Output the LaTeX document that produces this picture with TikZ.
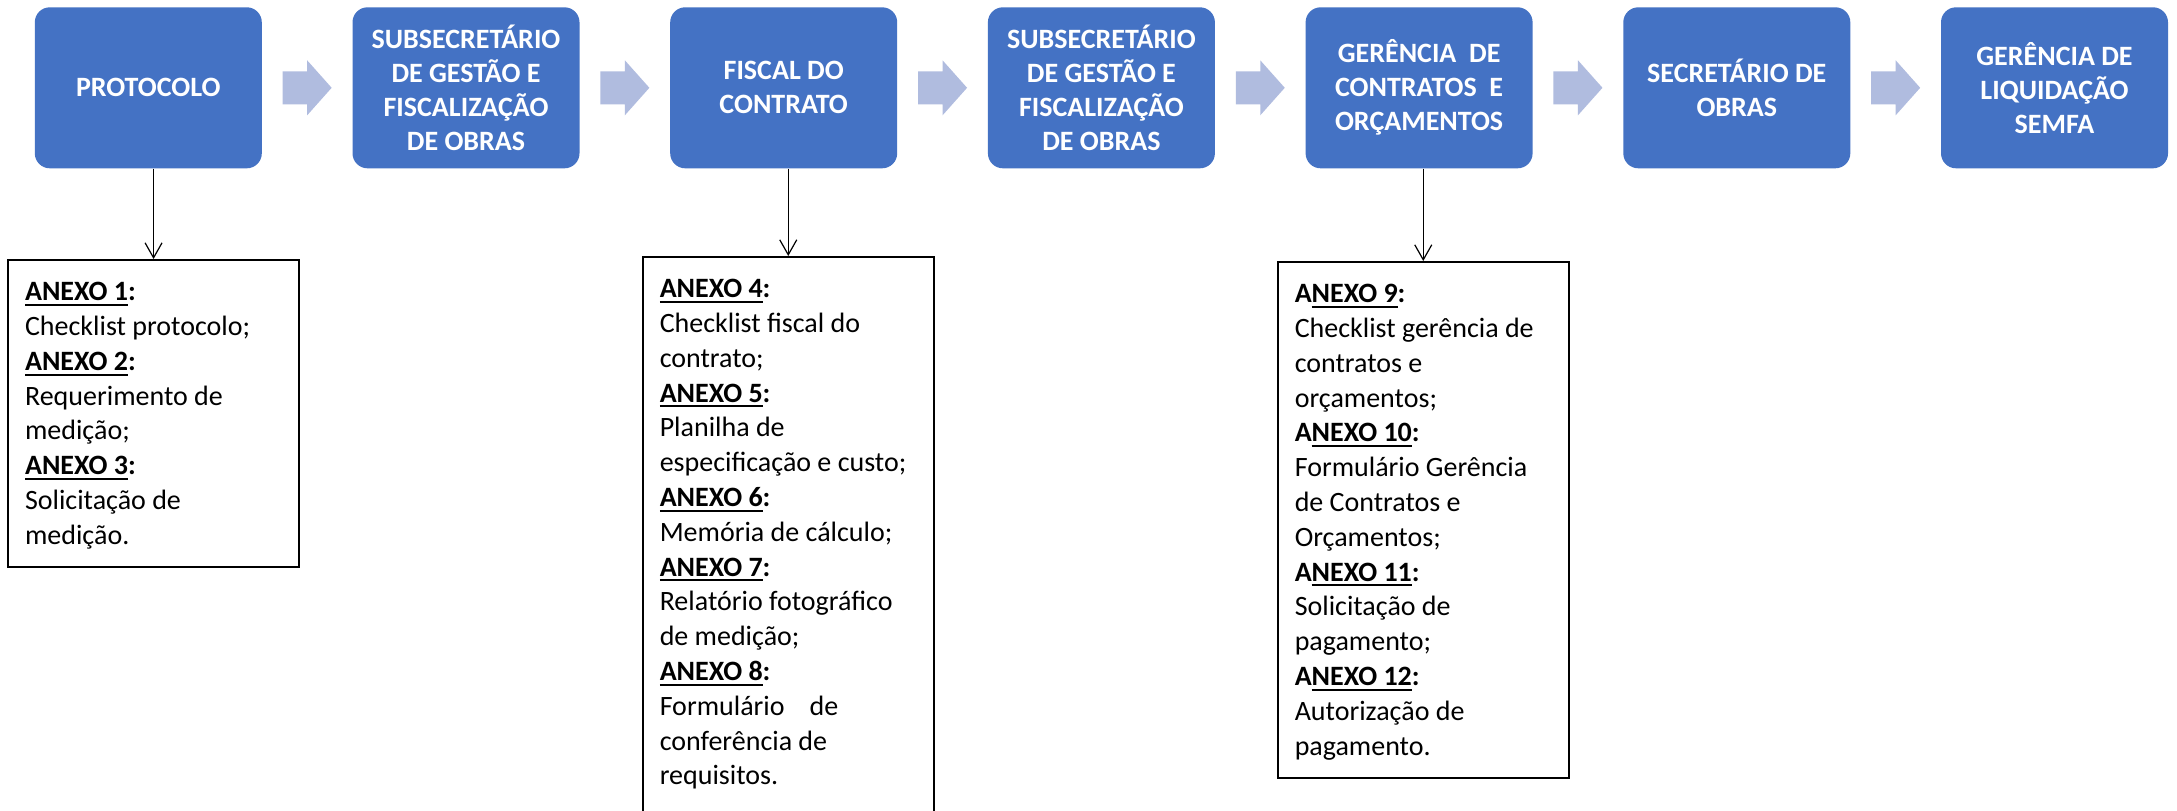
\documentclass[tikz,border=0pt]{standalone}
\usepackage{fontspec}
\setmainfont{Carlito}
\usetikzlibrary{arrows.meta,calc}
\definecolor{boxblue}{HTML}{4472C4}
\definecolor{arrowblue}{HTML}{B0BCDF}
\newcommand\ulx[1]{\setbox0\hbox{#1}\rlap{\rule[-5.3pt]{\wd0}{2pt}}\box0}
\newcommand\annexfont{\fontsize{28}{34.8}\selectfont}
\newcommand\annexbody[2]{\parbox[c][#1][t]{257pt}{\raggedright\annexfont\vspace*{16.6pt}\strut #2}}
\tikzset{
  stage/.style={fill=boxblue, rounded corners=15pt, minimum width=227pt, minimum height=161pt,
    inner sep=0pt, text=white, align=center, font=\fontsize{28}{34}\selectfont\bfseries},
  annex/.style={draw=black, line width=1.5pt, inner xsep=17pt, inner ysep=0pt, anchor=north west},
  link/.style={line width=1.2pt, -{Straight Barb[length=15pt,width=17pt]}},
  barrow/.pic={\fill[arrowblue] (-24.5,-16.5) -- (0,-16.5) -- (0,-27.5) -- (24.5,0) -- (0,27.5) -- (0,16.5) -- (-24.5,16.5) -- cycle;}
}
\begin{document}
\begin{tikzpicture}[x=1pt,y=-1pt]
\useasboundingbox (0,0) rectangle (2177,811);
\fill[white] (0,0) rectangle (2177,811);

% stage boxes
\node[stage] (s1) at (148.3,87.8) {PROTOCOLO};
\node[stage] (s2) at (466.0,87.8) {SUBSECRETÁRIO\\DE GESTÃO E\\FISCALIZAÇÃO\\DE OBRAS};
\node[stage] (s3) at (783.7,87.8) {FISCAL DO\\CONTRATO};
\node[stage] (s4) at (1101.4,87.8) {SUBSECRETÁRIO\\DE GESTÃO E\\FISCALIZAÇÃO\\DE OBRAS};
\node[stage] (s5) at (1419.1,87.8) {GERÊNCIA\ \ DE\\CONTRATOS\ \ E\\ORÇAMENTOS};
\node[stage] (s6) at (1736.8,87.8) {SECRETÁRIO DE\\OBRAS};
\node[stage] (s7) at (2054.5,87.8) {GERÊNCIA DE\\LIQUIDAÇÃO\\SEMFA};

% block arrows between stages
\path (s1.east) -- coordinate[midway] (m1) (s2.west);
\path (s2.east) -- coordinate[midway] (m2) (s3.west);
\path (s3.east) -- coordinate[midway] (m3) (s4.west);
\path (s4.east) -- coordinate[midway] (m4) (s5.west);
\path (s5.east) -- coordinate[midway] (m5) (s6.west);
\path (s6.east) -- coordinate[midway] (m6) (s7.west);
\pic at (m1) {barrow};
\pic at (m2) {barrow};
\pic at (m3) {barrow};
\pic at (m4) {barrow};
\pic at (m5) {barrow};
\pic at (m6) {barrow};

% annex boxes
\node[annex] (a1) at (7.3,259) {\annexbody{307pt}{%
\textbf{\ulx{ANEXO 1}:}\\
Checklist protocolo;\\
\textbf{\ulx{ANEXO 2}:}\\
Requerimento de\\
medição;\\
\textbf{\ulx{ANEXO 3}:}\\
Solicitação de\\
medição.}};

\begin{scope}
\clip (0,0) rectangle (2177,811);
\node[annex] (a4) at (642,256) {\annexbody{600pt}{%
\textbf{\ulx{ANEXO 4}:}\\
Checklist fiscal do\\
contrato;\\
\textbf{\ulx{ANEXO 5}:}\\
Planilha de\\
especificação e custo;\\
\textbf{\ulx{ANEXO 6}:}\\
Memória de cálculo;\\
\textbf{\ulx{ANEXO 7}:}\\
Relatório fotográfico\\
de medição;\\
\textbf{\ulx{ANEXO 8}:}\\
Formulário\hspace{25pt}de\\
conferência de\\
requisitos.}};
\end{scope}

\node[annex] (a9) at (1277,261) {\annexbody{516pt}{%
\textbf{A\ulx{NEXO 9}:}\\
Checklist gerência de\\
contratos e\\
orçamentos;\\
\textbf{A\ulx{NEXO 10}:}\\
Formulário Gerência\\
de Contratos e\\
Orçamentos;\\
\textbf{A\ulx{NEXO 11}:}\\
Solicitação de\\
pagamento;\\
\textbf{A\ulx{NEXO 12}:}\\
Autorização de\\
pagamento.}};

% connectors
\draw[link] (a1.north |- s1.south) -- (a1.north);
\draw[link] (a4.north |- s3.south) -- (a4.north);
\draw[link] (a9.north |- s5.south) -- (a9.north);
\end{tikzpicture}
\end{document}
